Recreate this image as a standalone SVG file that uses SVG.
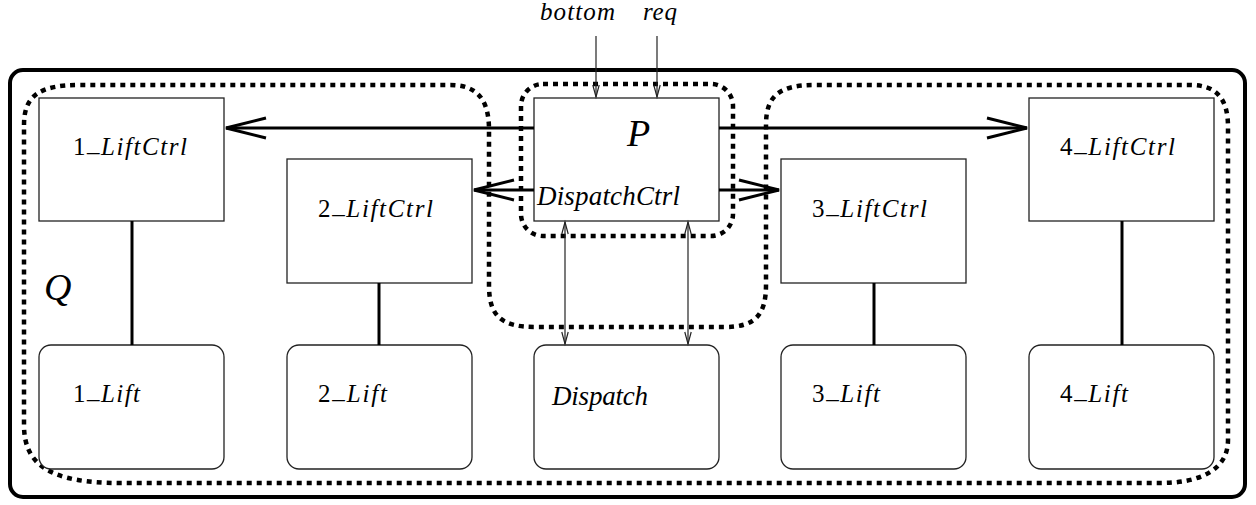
<svg xmlns="http://www.w3.org/2000/svg" width="1256" height="505" viewBox="0 0 1256 505">
  <style>
    .box { fill: #fff; stroke: #222; stroke-width: 1.3; }
    .lbl { font-family: "Liberation Serif", "Times New Roman", serif; font-size: 25px; fill: #000; }
    .big { font-family: "Liberation Serif", "Times New Roman", serif; font-size: 27px; font-style: italic; fill: #000; }
    .huge { font-family: "Liberation Serif", "Times New Roman", serif; font-size: 38px; font-style: italic; fill: #000; }
    .it { font-style: italic; }
    .thick { stroke: #000; stroke-width: 3; fill: none; }
    .thin { stroke: #222; stroke-width: 1.2; fill: none; }
    .dots { stroke: #000; stroke-width: 4.5; stroke-dasharray: 5 5; fill: none; }
  </style>
  <defs>
    <marker id="openBig" markerUnits="userSpaceOnUse" markerWidth="48" markerHeight="28" refX="42" refY="14" orient="auto">
      <path d="M2,4 L42,14 L2,24" fill="none" stroke="#000" stroke-width="3" stroke-linejoin="miter"/>
    </marker>
    <marker id="openSmall" markerUnits="userSpaceOnUse" markerWidth="16" markerHeight="10" refX="13" refY="5" orient="auto-start-reverse">
      <path d="M1,1.8 L13,5 L1,8.2" fill="none" stroke="#222" stroke-width="1.2"/>
    </marker>
  </defs>

  <rect width="1256" height="505" fill="#fff"/>

  <!-- outer container -->
  <rect x="10" y="70" width="1235" height="427" rx="13" ry="13" fill="none" stroke="#000" stroke-width="4"/>

  <!-- region Q -->
  <g id="regionQ">
    <path class="dots" d="M24,125 C24,95 40,85 80,85 L450,85 C475,85 489,97 489,130 L489,285 C489,315 500,327 535,327 L725,327 C755,327 766,315 766,285 L766,125 C766,95 780,85 815,85 L1190,85 C1215,85 1228,97 1228,127 L1228,440 C1228,470 1200,483 1160,483 L120,483 C50,483 24,465 24,425 Z"/>
    <text class="huge" x="44" y="300">Q</text>
  </g>

  <!-- region P -->
  <g id="regionP">
    <rect class="dots" x="521" y="84" width="212" height="152" rx="22" ry="22"/>
  </g>

  <!-- controllers -->
  <g id="liftCtrl1">
    <rect class="box" x="39" y="98" width="185" height="123"/>
    <text class="lbl" x="73" y="155" textLength="114" lengthAdjust="spacing">1<tspan dy="-4">_</tspan><tspan class="it" dy="4">LiftCtrl</tspan></text>
  </g>
  <g id="liftCtrl2">
    <rect class="box" x="287" y="159" width="185" height="124"/>
    <text class="lbl" x="318" y="217" textLength="115" lengthAdjust="spacing">2<tspan dy="-4">_</tspan><tspan class="it" dy="4">LiftCtrl</tspan></text>
  </g>
  <g id="dispatchCtrl">
    <rect class="box" x="534" y="98" width="185" height="123"/>
    <text class="huge" x="627" y="146">P</text>
    <text class="big" x="537" y="205" textLength="143" lengthAdjust="spacing">DispatchCtrl</text>
  </g>
  <g id="liftCtrl3">
    <rect class="box" x="781" y="159" width="185" height="124"/>
    <text class="lbl" x="812" y="217" textLength="115" lengthAdjust="spacing">3<tspan dy="-4">_</tspan><tspan class="it" dy="4">LiftCtrl</tspan></text>
  </g>
  <g id="liftCtrl4">
    <rect class="box" x="1029" y="98" width="185" height="123"/>
    <text class="lbl" x="1060" y="155" textLength="115" lengthAdjust="spacing">4<tspan dy="-4">_</tspan><tspan class="it" dy="4">LiftCtrl</tspan></text>
  </g>

  <!-- lifts -->
  <g id="lift1">
    <rect class="box" x="39" y="345" width="185" height="124" rx="12" ry="12"/>
    <text class="lbl" x="73" y="402" textLength="67" lengthAdjust="spacing">1<tspan dy="-4">_</tspan><tspan class="it" dy="4">Lift</tspan></text>
  </g>
  <g id="lift2">
    <rect class="box" x="287" y="345" width="185" height="124" rx="12" ry="12"/>
    <text class="lbl" x="318" y="402" textLength="69" lengthAdjust="spacing">2<tspan dy="-4">_</tspan><tspan class="it" dy="4">Lift</tspan></text>
  </g>
  <g id="dispatch">
    <rect class="box" x="534" y="345" width="185" height="124" rx="12" ry="12"/>
    <text class="big" x="552" y="405" textLength="96" lengthAdjust="spacing">Dispatch</text>
  </g>
  <g id="lift3">
    <rect class="box" x="781" y="345" width="185" height="124" rx="12" ry="12"/>
    <text class="lbl" x="812" y="402" textLength="68" lengthAdjust="spacing">3<tspan dy="-4">_</tspan><tspan class="it" dy="4">Lift</tspan></text>
  </g>
  <g id="lift4">
    <rect class="box" x="1029" y="345" width="185" height="124" rx="12" ry="12"/>
    <text class="lbl" x="1060" y="402" textLength="68" lengthAdjust="spacing">4<tspan dy="-4">_</tspan><tspan class="it" dy="4">Lift</tspan></text>
  </g>

  <!-- input labels -->
  <g id="inputs">
    <text class="lbl it" x="540" y="20" textLength="75" lengthAdjust="spacing">bottom</text>
    <text class="lbl it" x="643" y="20" textLength="34" lengthAdjust="spacing">req</text>
  </g>

  <!-- connectors -->
  <g id="connectors">
    <line class="thick" x1="534" y1="128" x2="226" y2="128" marker-end="url(#openBig)"/>
    <line class="thick" x1="719" y1="128" x2="1027" y2="128" marker-end="url(#openBig)"/>
    <line class="thick" x1="534" y1="190" x2="474" y2="190" marker-end="url(#openBig)"/>
    <line class="thick" x1="719" y1="190" x2="779" y2="190" marker-end="url(#openBig)"/>

    <line class="thick" x1="132" y1="221" x2="132" y2="345"/>
    <line class="thick" x1="379" y1="283" x2="379" y2="345"/>
    <line class="thick" x1="874" y1="283" x2="874" y2="345"/>
    <line class="thick" x1="1122" y1="221" x2="1122" y2="345"/>

    <line class="thin" x1="596" y1="36" x2="596" y2="97" marker-end="url(#openSmall)"/>
    <line class="thin" x1="657" y1="36" x2="657" y2="97" marker-end="url(#openSmall)"/>

    <line class="thin" x1="565" y1="222" x2="565" y2="344" marker-start="url(#openSmall)" marker-end="url(#openSmall)"/>
    <line class="thin" x1="688" y1="222" x2="688" y2="344" marker-start="url(#openSmall)" marker-end="url(#openSmall)"/>
  </g>
</svg>
